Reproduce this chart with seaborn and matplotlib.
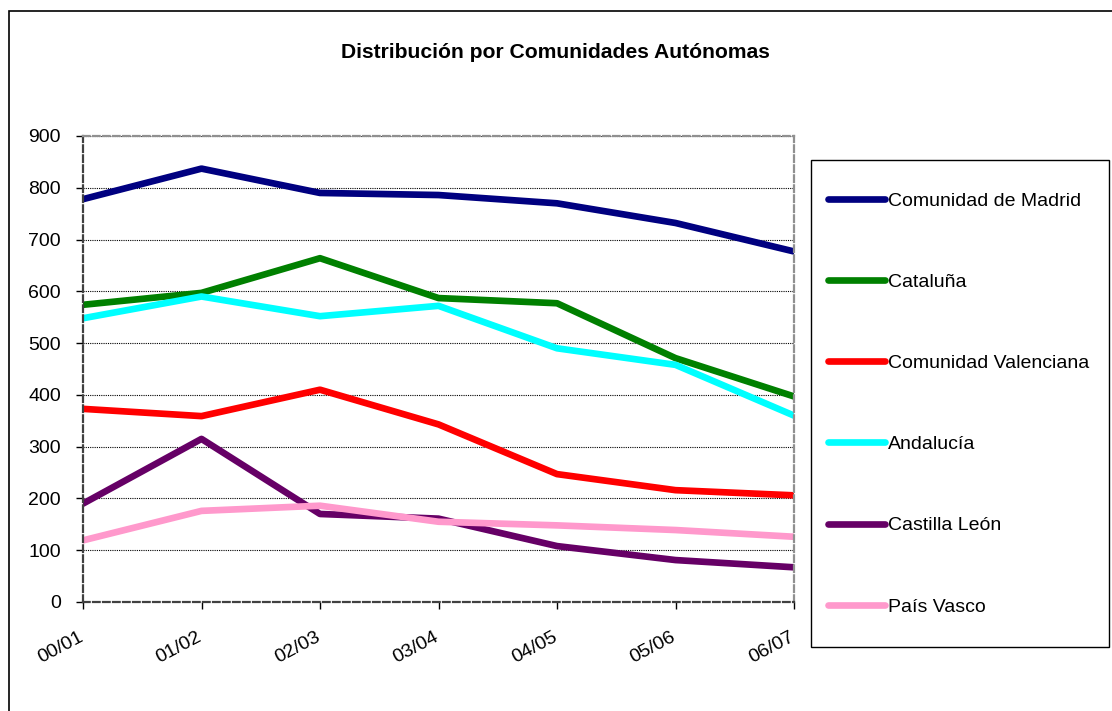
import numpy as np
import pandas as pd
import matplotlib
matplotlib.use("Agg")
import matplotlib.pyplot as plt
import matplotlib.transforms as mtrans
import seaborn as sns
from matplotlib.patches import Rectangle
from matplotlib.lines import Line2D

# Datos
cursos = ["00/01", "01/02", "02/03", "03/04", "04/05", "05/06", "06/07"]
madrid = [778, 837, 790, 786, 770, 732, 677]
cataluna = [574, 597, 664, 587, 577, 471, 397]
valenciana = [373, 359, 410, 343, 247, 216, 206]
andalucia = [548, 590, 552, 572, 490, 458, 360]
castilla = [190, 315, 170, 161, 108, 81, 67]
pais_vasco = [119, 176, 186, 155, 148, 139, 126]

comunidades = ["Comunidad de Madrid", "Cataluña", "Comunidad Valenciana",
               "Andalucía", "Castilla León", "País Vasco"]
series = [madrid, cataluna, valenciana, andalucia, castilla, pais_vasco]
colores = ["#000080", "#008000", "#FF0000", "#00FFFF", "#660066", "#FF99CC"]

filas = []
for nombre, valores in zip(comunidades, series):
    for curso, v in zip(cursos, valores):
        filas.append({"Curso": curso, "Valor": v, "Comunidad": nombre})
df = pd.DataFrame(filas)

sns.set_style("white")
plt.rcParams["font.family"] = ["Liberation Sans", "DejaVu Sans"]
plt.rcParams["text.color"] = "black"
plt.rcParams["xtick.color"] = "black"
plt.rcParams["ytick.color"] = "black"

fig = plt.figure(figsize=(11.12, 7.11), dpi=100)
ax = fig.add_axes([83 / 1112, 109 / 711, 711 / 1112, 466 / 711])

sns.lineplot(data=df, x="Curso", y="Valor", hue="Comunidad",
             palette=dict(zip(comunidades, colores)), linewidth=4.8,
             solid_capstyle="round", sort=False, ax=ax, legend=False)

ax.set_xlim(0, len(cursos) - 1)
ax.set_ylim(0, 900)
ax.set_yticks(range(0, 901, 100))
ax.set_xticks(range(len(cursos)))
ax.set_xticklabels(cursos, rotation=28, ha="right", rotation_mode="anchor")
ax.set_xlabel("")
ax.set_ylabel("")
ax.tick_params(axis="both", labelsize=14, length=5, width=1, color="black",
               direction="out", bottom=True, left=True)
ax.tick_params(axis="y", pad=11)
ax.tick_params(axis="x", pad=14)
ax.yaxis.grid(True, color="black", linestyle=(0, (1, 1)), linewidth=0.8)
ax.xaxis.grid(False)

# desplazar un poco las etiquetas del eje x hacia la izquierda
desplazamiento = mtrans.ScaledTranslation(-5 / 100, 0, fig.dpi_scale_trans)
for etiqueta in ax.get_xticklabels():
    etiqueta.set_transform(etiqueta.get_transform() + desplazamiento)

for lado in ["left", "bottom"]:
    ax.spines[lado].set_color("#404040")
for lado in ["top", "right"]:
    ax.spines[lado].set_color("#909090")
for sp in ax.spines.values():
    sp.set_linestyle((0, (3, 1.5)))
    sp.set_linewidth(1.6)
    sp.set_visible(True)

fig.text(555 / 1112, 1 - 52 / 711, "Distribución por Comunidades Autónomas",
         ha="center", va="center", fontsize=15.2, fontweight="bold")

# leyenda (sin marco; el recuadro se dibuja aparte)
handles = [Line2D([], [], color=c, linewidth=4.8, solid_capstyle="round")
           for c in colores]
leg = fig.legend(handles, comunidades, loc="upper left",
                 bbox_to_anchor=(828 / 1112, 1 - 192 / 711),
                 bbox_transform=fig.transFigure,
                 fontsize=14, frameon=False, handlelength=2.95,
                 handletextpad=0.15, labelspacing=3.27, borderpad=0,
                 borderaxespad=0)
fig.patches.append(Rectangle((811 / 1112, 1 - 647 / 711), 298 / 1112, 487 / 711,
                             transform=fig.transFigure, fill=False,
                             edgecolor="black", linewidth=1.0))

# borde exterior del grafico
fig.patches.append(Rectangle((9 / 1112, -0.1), 1.2, 1 - 11 / 711 + 0.1,
                             transform=fig.transFigure, fill=False,
                             edgecolor="black", linewidth=1.2))

fig.savefig("out.png", dpi=100)
